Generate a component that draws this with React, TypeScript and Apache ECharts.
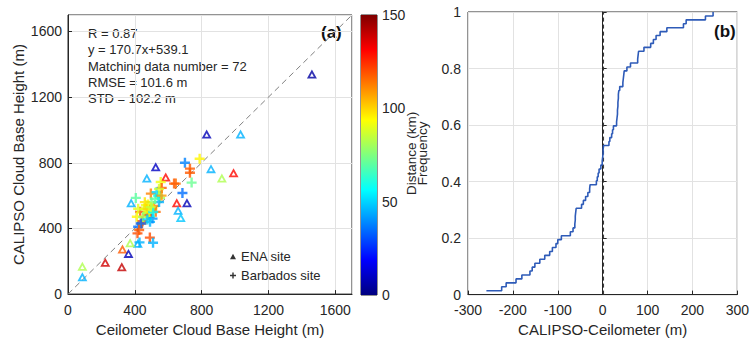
import React, { useEffect, useRef } from 'react';
import * as echarts from 'echarts';

// ---- Data ----
// [Ceilometer CBH (m), CALIPSO CBH (m), colour value]
const enaPoints: number[][] = [
  [1460, 1340, 5],
  [830, 975, 8],
  [1033, 975, 45],
  [525, 775, 10],
  [856, 764, 45],
  [921, 707, 82],
  [991, 739, 130],
  [585, 713, 130],
  [472, 707, 45],
  [378, 556, 45],
  [651, 556, 130],
  [712, 556, 8],
  [659, 511, 45],
  [675, 467, 48],
  [418, 309, 45],
  [372, 313, 82],
  [326, 275, 118],
  [362, 248, 8],
  [223, 194, 138],
  [322, 166, 140],
  [86, 170, 82],
  [86, 105, 45],
];

const barbadosPoints: number[][] = [
  [788, 824, 95],
  [700, 800, 38],
  [730, 764, 118],
  [730, 739, 118],
  [740, 679, 72],
  [645, 673, 115],
  [635, 673, 118],
  [555, 683, 92],
  [561, 647, 118],
  [496, 612, 112],
  [685, 616, 35],
  [406, 586, 70],
  [551, 586, 80],
  [480, 545, 95],
  [466, 541, 92],
  [515, 537, 110],
  [545, 561, 45],
  [506, 521, 95],
  [432, 501, 120],
  [525, 501, 115],
  [472, 491, 62],
  [412, 471, 95],
  [491, 471, 68],
  [446, 444, 120],
  [491, 440, 45],
  [420, 410, 35],
  [416, 370, 120],
  [490, 344, 120],
  [509, 313, 45],
  [428, 315, 45],
  [440, 430, 118],
  [476, 480, 118],
  [506, 460, 40],
  [436, 430, 35],
  [426, 390, 118],
  [455, 515, 88],
  [500, 560, 75],
  [470, 520, 100],
  [520, 580, 70],
  [540, 600, 60],
  [485, 500, 90],
  [450, 470, 80],
  [530, 620, 50],
  [460, 560, 98],
  [510, 500, 55],
  [495, 530, 85],
  [420, 520, 90],
  [545, 640, 88],
  [475, 455, 50],
  [560, 600, 108],
];

const oneToOne: number[][] = [
  [0, 0],
  [1700, 1700],
];

// sorted CALIPSO - Ceilometer differences (m)
const cdfDiffs: number[] = [
  -259, -225, -215, -193, -180, -162, -157, -151, -140, -129,
  -118, -112, -104, -100, -92, -72, -66, -62, -61, -61,
  -60, -59, -47, -43, -38, -33, -29, -28, -14, -12,
  -10, -8, -4, -1, 0, 1, 1, 2, 14, 16,
  20, 22, 24, 31, 32, 33, 33, 34, 34, 35,
  35, 36, 38, 45, 46, 47, 48, 54, 62, 78,
  79, 80, 92, 107, 113, 119, 128, 143, 180, 186,
  229, 246,
];

const meanBias = 2;

const statsLines = [
  'R = 0.87',
  'y = 170.7x+539.1',
  'Matching data number = 72',
  'RMSE = 101.6 m',
  'STD = 102.2 m',
];

const colorMin = 0;
const colorMax = 150;
const jet = ['#00007F', '#0000FF', '#007FFF', '#00FFFF', '#7FFF7F', '#FFFF00', '#FF7F00', '#FF0000', '#7F0000'];

const FONT = '"Liberation Sans", Arial, Helvetica, sans-serif';
const INK = '#262626';
const GRIDC = '#e2e2e2';

const triPath = 'path://M10 0 L20 18 L0 18 Z M10 7.4 L6.1 14.4 L13.9 14.4 Z';
const triSolid = 'path://M10 0 L20 18 L0 18 Z';
const plusPath = 'path://M3.8 0 H6.2 V3.8 H10 V6.2 H6.2 V10 H3.8 V6.2 H0 V3.8 H3.8 Z';

export default function App() {
  const ref = useRef<HTMLDivElement>(null);

  useEffect(() => {
    if (!ref.current) return;
    const chart = echarts.init(ref.current, undefined, { renderer: 'svg' });

    const plain = (v: number) => String(v);
    const axisLabel = { fontSize: 14, lineHeight: 14, color: INK, fontFamily: FONT, formatter: plain };
    const nameStyle = { fontSize: 15, color: INK, fontFamily: FONT };
    const tick = { inside: true, length: 4, lineStyle: { color: INK } };
    const aLine = { show: true, lineStyle: { color: INK } };
    const split = { show: true, lineStyle: { color: GRIDC, width: 1 } };

    const cdfData = cdfDiffs.map((v, i) => [v, (i + 1) / cdfDiffs.length]);

    chart.setOption({
      animation: false,
      backgroundColor: '#fff',
      grid: [
        { left: 68, top: 15, width: 284, height: 281, show: true, borderColor: INK, borderWidth: 1, backgroundColor: 'transparent' },
        { left: 468, top: 12, width: 276, height: 291, show: true, borderColor: INK, borderWidth: 1, backgroundColor: 'transparent' },
        { left: 361, top: 15, width: 16, height: 280, show: true, borderColor: INK, borderWidth: 1, backgroundColor: 'transparent' },
      ],
      xAxis: [
        {
          gridIndex: 0, type: 'value', min: 0, max: 1700, interval: 400,
          name: 'Ceilometer Cloud Base Height (m)', nameLocation: 'middle', nameGap: 27, nameTextStyle: nameStyle,
          axisLabel: { ...axisLabel, margin: 9, showMaxLabel: false }, axisTick: tick, axisLine: aLine, splitLine: split,
        },
        {
          gridIndex: 1, type: 'value', min: -300, max: 300, interval: 100,
          name: 'CALIPSO-Ceilometer (m)', nameLocation: 'middle', nameGap: 22, nameTextStyle: nameStyle,
          axisLabel: { ...axisLabel, margin: 8.5 }, axisTick: tick, axisLine: aLine, splitLine: split,
        },
        { gridIndex: 2, type: 'category', data: ['c'], show: false },
      ],
      yAxis: [
        {
          gridIndex: 0, type: 'value', min: 0, max: 1700, interval: 400,
          name: 'CALIPSO Cloud Base Height (m)', nameLocation: 'middle', nameGap: 42, nameTextStyle: nameStyle,
          axisLabel: { ...axisLabel, margin: 6, showMaxLabel: false }, axisTick: tick, axisLine: aLine, splitLine: split,
        },
        {
          gridIndex: 1, type: 'value', min: 0, max: 1, interval: 0.2,
          name: 'Distance (km)\nFrequency', nameLocation: 'middle', nameGap: 40,
          nameTextStyle: { fontSize: 13.5, color: INK, fontFamily: FONT, lineHeight: 11 },
          axisLabel: { ...axisLabel, margin: 7 }, axisTick: tick, axisLine: aLine, splitLine: split,
        },
        {
          gridIndex: 2, type: 'value', min: colorMin, max: colorMax, interval: 50, position: 'right',
          axisLabel: { ...axisLabel, margin: 5 }, axisTick: { inside: true, length: 3, lineStyle: { color: INK } },
          axisLine: { show: false }, splitLine: { show: false },
        },
      ],
      visualMap: {
        type: 'continuous', show: false, min: colorMin, max: colorMax, dimension: 2,
        seriesIndex: [1, 2], inRange: { color: jet },
      },
      legend: {
        left: 225, top: 244, orient: 'vertical', itemWidth: 6, itemHeight: 6, itemGap: 4,
        textStyle: { fontSize: 13, color: INK, fontFamily: FONT, lineHeight: 15 },
        data: [
          { name: 'ENA site', icon: triSolid, itemStyle: { color: '#000' } },
          { name: 'Barbados site', icon: plusPath, itemStyle: { color: '#000' } },
        ],
        selectedMode: false,
      },
      graphic: [
        {
          type: 'text', left: 88, top: 25, silent: true,
          style: { text: statsLines.join('\n'), fontSize: 13, lineHeight: 16.4, fill: INK, fontFamily: FONT },
        },
        {
          type: 'text', left: 321, top: 24, silent: true,
          style: { text: '(a)', fontSize: 17, fontWeight: 'bold', fill: '#111', fontFamily: FONT },
        },
        {
          type: 'text', left: 714, top: 23, silent: true,
          style: { text: '(b)', fontSize: 17, fontWeight: 'bold', fill: '#111', fontFamily: FONT },
        },
      ],
      series: [
        {
          type: 'line', xAxisIndex: 0, yAxisIndex: 0, data: oneToOne, symbol: 'none', silent: true,
          lineStyle: { type: [6, 4], color: '#808080', width: 1 }, z: 1,
        },
        {
          name: 'ENA site', type: 'scatter', xAxisIndex: 0, yAxisIndex: 0, data: enaPoints,
          symbol: triPath, symbolSize: [10, 9], z: 3,
        },
        {
          name: 'Barbados site', type: 'scatter', xAxisIndex: 0, yAxisIndex: 0, data: barbadosPoints,
          symbol: plusPath, symbolSize: 10, z: 3,
        },
        {
          type: 'line', xAxisIndex: 1, yAxisIndex: 1, data: cdfData, step: 'end', symbol: 'none',
          lineStyle: { color: '#2e5bb8', width: 1.6 }, z: 3,
        },
        {
          type: 'line', xAxisIndex: 1, yAxisIndex: 1, data: [[meanBias, 0], [meanBias, 1]], symbol: 'none', silent: true,
          lineStyle: { color: '#333', width: 1, type: [4, 3] }, z: 2,
        },
        {
          type: 'bar', xAxisIndex: 2, yAxisIndex: 2, data: [colorMax], barWidth: '100%', silent: true,
          itemStyle: {
            color: new echarts.graphic.LinearGradient(0, 1, 0, 0,
              jet.map((c, i) => ({ offset: i / (jet.length - 1), color: c }))),
          },
        },
      ],
    });

    return () => chart.dispose();
  }, []);

  return (
    <div
      ref={ref}
      style={{ position: 'fixed', left: 0, top: 0, width: 752, height: 342, background: '#fff' }}
    />
  );
}
